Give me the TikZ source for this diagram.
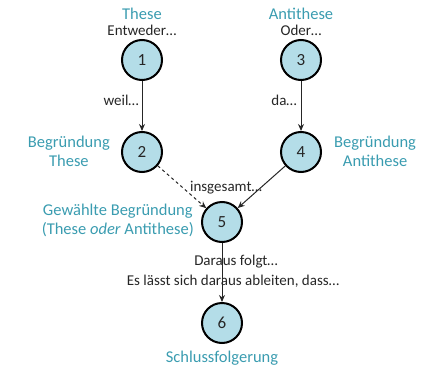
\documentclass[tikz,border=0pt]{standalone}
\usepackage{fontspec}
\setmainfont{Carlito}
\usetikzlibrary{arrows.meta}
\definecolor{kreis}{HTML}{B4DDE8}
\definecolor{titel}{HTML}{3A9CB0}
\definecolor{schrift}{HTML}{262626}
\tikzset{
 knoten/.style={draw=black, circle, fill=kreis, line width=2pt, minimum size=40pt, inner sep=0pt, font=\fontsize{17}{18}\selectfont, text=schrift},
 titeltext/.style={text=titel, font=\fontsize{16.5}{19}\selectfont, inner sep=0pt},
 randtext/.style={text=schrift, font=\fontsize{15}{17}\selectfont, inner sep=0pt},
 pfeil/.style={-{Stealth[length=7pt,width=6pt]}, line width=1pt, draw=schrift}
}
\begin{document}
\begin{tikzpicture}[x=1pt,y=-1pt]
 \useasboundingbox (0,0) rectangle (428,372);
 \node[knoten] (K1) at (142,60) {1};
 \node[knoten] (K2) at (142,152) {2};
 \node[knoten] (K3) at (301,60) {3};
 \node[knoten] (K4) at (301,152) {4};
 \node[knoten] (K5) at (222,222) {5};
 \node[knoten] (K6) at (222,323) {6};

 \node[titeltext] (T1) at (142,14) {These};
 \node[randtext] (E1) at (142,30) {Entweder\dots};
 \node[titeltext] (T3) at (301,14) {Antithese};
 \node[randtext] (E3) at (301,30) {Oder\dots};
 \node[randtext, anchor=east] (W) at (139,100) {weil\dots};
 \node[randtext, anchor=east] (D) at (297,100) {da\dots};
 \node[titeltext, align=center, anchor=east] (T2) at (110,151) {Begründung\\These};
 \node[titeltext, align=center, anchor=west] (T4) at (334,151) {Begründung\\Antithese};
 \node[randtext] (I) at (226,188) {insgesamt\dots};
 \node[titeltext, align=center, anchor=east] (T5) at (194,220) {Gewählte Begründung\\(These \textit{oder} Antithese)};
 \node[randtext] (F) at (236,262) {Daraus folgt\dots};
 \node[randtext] (A) at (233,281) {Es lässt sich daraus ableiten, dass\dots};
 \node[titeltext] (T6) at (222,358) {Schlussfolgerung};

 \draw[pfeil] (K1) -- (K2);
 \draw[pfeil] (K3) -- (K4);
 \draw[pfeil, dashed] (K2) -- (K5);
 \draw[pfeil] (K4) -- (K5);
 \draw[pfeil] (K5) -- (K6);
\end{tikzpicture}
\end{document}
